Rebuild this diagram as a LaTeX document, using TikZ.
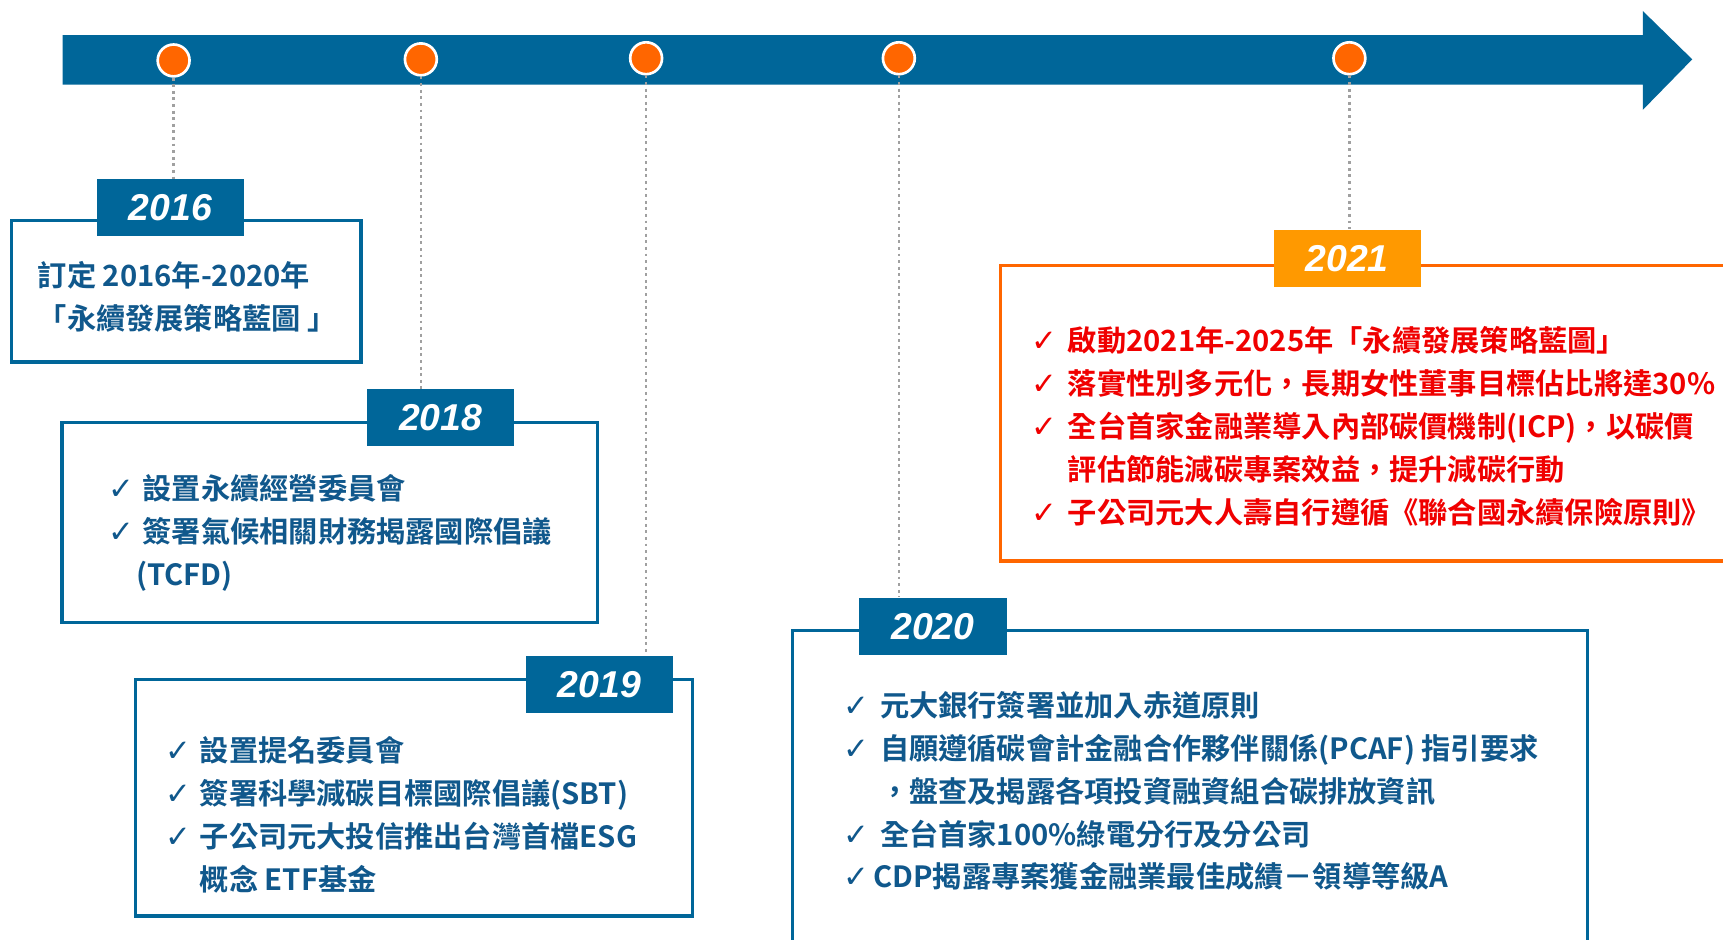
\documentclass[tikz,border=0pt]{standalone}
\usepackage{fontspec}
\setmainfont{Noto Sans CJK TC}[BoldFont={* Bold}]
\newfontfamily\cjkb{Noto Sans CJK TC Bold}
\newfontfamily\symf{DejaVu Sans}
\newfontfamily\yearf{Liberation Sans}[BoldItalicFont={Liberation Sans Bold Italic}]
\definecolor{tlblue}{RGB}{0,102,153}
\definecolor{txblue}{RGB}{16,88,140}
\definecolor{dotorange}{RGB}{255,102,0}
\definecolor{boxorange}{RGB}{255,102,0}
\definecolor{taborange}{RGB}{255,153,0}
\definecolor{txred}{RGB}{240,0,0}
\definecolor{dotgray}{RGB}{160,160,160}
\newcommand{\ck}{{\symf\fontsize{14}{14}\selectfont ✓}}
\begin{document}
\begin{tikzpicture}[x=0.5pt,y=-0.5pt,
  dotc/.style={circle,fill=dotorange,draw=white,line width=1.2pt,minimum size=14.5pt,inner sep=0pt},
  bluebox/.style={draw=tlblue,line width=1.5pt,fill=white,anchor=north west,inner sep=0pt},
  orangebox/.style={draw=boxorange,line width=1.5pt,fill=white,anchor=north west,inner sep=0pt},
  yeartab/.style={fill=tlblue,minimum width=67pt,minimum height=26pt,inner sep=0pt,text=white,
    font=\yearf\bfseries\itshape\fontsize{17}{17}\selectfont},
  yeartabo/.style={yeartab,fill=taborange},
  guide/.style={draw=dotgray,line width=1.2pt,dash pattern=on 1.3pt off 1.7pt},
  bodyb/.style={anchor=base west,inner sep=0pt,text=txblue,font=\cjkb\fontsize{13.3}{19.5}\selectfont},
  bodyr/.style={bodyb,text=txred}
]
\clip (0,0) rectangle (1568,855);
\fill[white] (0,0) rectangle (1568,855);
% timeline arrow
\fill[tlblue] (57,32) -- (1495,32) -- (1495,10) -- (1540,54) -- (1495,100) -- (1495,77) -- (57,77) -- cycle;
% dots
\node[dotc] (d16) at (158,55) {};
\node[dotc] (d18) at (383,54) {};
\node[dotc] (d19) at (588,53) {};
\node[dotc] (d20) at (818,53) {};
\node[dotc] (d21) at (1228,53) {};
% boxes
\node[bluebox,minimum width=159pt,minimum height=64.5pt] (b16) at (9,199) {};
\node[bluebox,minimum width=243.5pt,minimum height=91pt] (b18) at (55,383) {};
\node[bluebox,minimum width=253.5pt,minimum height=107.5pt] (b19) at (122,617) {};
\node[bluebox,minimum width=361.5pt,minimum height=170pt] (b20) at (720,572) {};
\node[orangebox,minimum width=345.5pt,minimum height=134.5pt] (b21) at (909,240) {};
% tabs
\node[yeartab] (t16) at (155,189) {2016};
\node[yeartab] (t18) at (401,380) {2018};
\node[yeartab,minimum width=66.5pt] (t19) at (545.5,623) {2019};
\node[yeartab] (t20) at (849,570) {2020};
\node[yeartabo] (t21) at (1226,235) {2021};
% guides
\draw[guide] (d16.south) -- (d16.south |- t16.north);
\draw[guide] (d18.south) -- (d18.south |- t18.north);
\draw[guide] (d19.south) -- (d19.south |- t19.north);
\draw[guide] (d20.south) -- (d20.south |- t20.north);
\draw[guide] (d21.south) -- (d21.south |- t21.north);
% texts
\node[bodyb] (x16) at (34,261) {\begin{tabular}[t]{@{}l@{}}訂定 2016年-2020年\\「永續發展策略藍圖 」\end{tabular}};
\node[bodyb] (x18) at (98,455) {\begin{tabular}[t]{@{}l@{\hspace{4pt}}l@{}}\ck & 設置永續經營委員會\\ \ck & 簽署氣候相關財務揭露國際倡議\\ & \hspace{-3pt}(TCFD)\end{tabular}};
\node[bodyb] (x19) at (150,693) {\begin{tabular}[t]{@{}l@{\hspace{4pt}}l@{}}\ck & 設置提名委員會\\ \ck & 簽署科學減碳目標國際倡議(SBT)\\ \ck & 子公司元大投信推出台灣首檔ESG\\ & 概念 ETF基金\end{tabular}};
\node[bodyb] (x20) at (767,652) {\begin{tabular}[t]{@{}l@{\hspace{5pt}}l@{}}\ck & 元大銀行簽署並加入赤道原則\\ \ck & 自願遵循碳會計金融合作夥伴關係(PCAF) 指引要求\\ & ，盤查及揭露各項投資融資組合碳排放資訊\\ \ck & 全台首家100\%綠電分行及分公司\\ \ck & \hspace{-3pt}CDP揭露專案獲金融業最佳成績－領導等級A\end{tabular}};
\node[bodyr] (x21) at (938,320) {\begin{tabular}[t]{@{}l@{\hspace{5pt}}l@{}}\ck & 啟動2021年-2025年「永續發展策略藍圖」\\ \ck & 落實性別多元化，長期女性董事目標佔比將達30\%\\ \ck & 全台首家金融業導入內部碳價機制(ICP)，以碳價\\ & 評估節能減碳專案效益，提升減碳行動\\ \ck & 子公司元大人壽自行遵循《聯合國永續保險原則》\end{tabular}};
\end{tikzpicture}
\end{document}
